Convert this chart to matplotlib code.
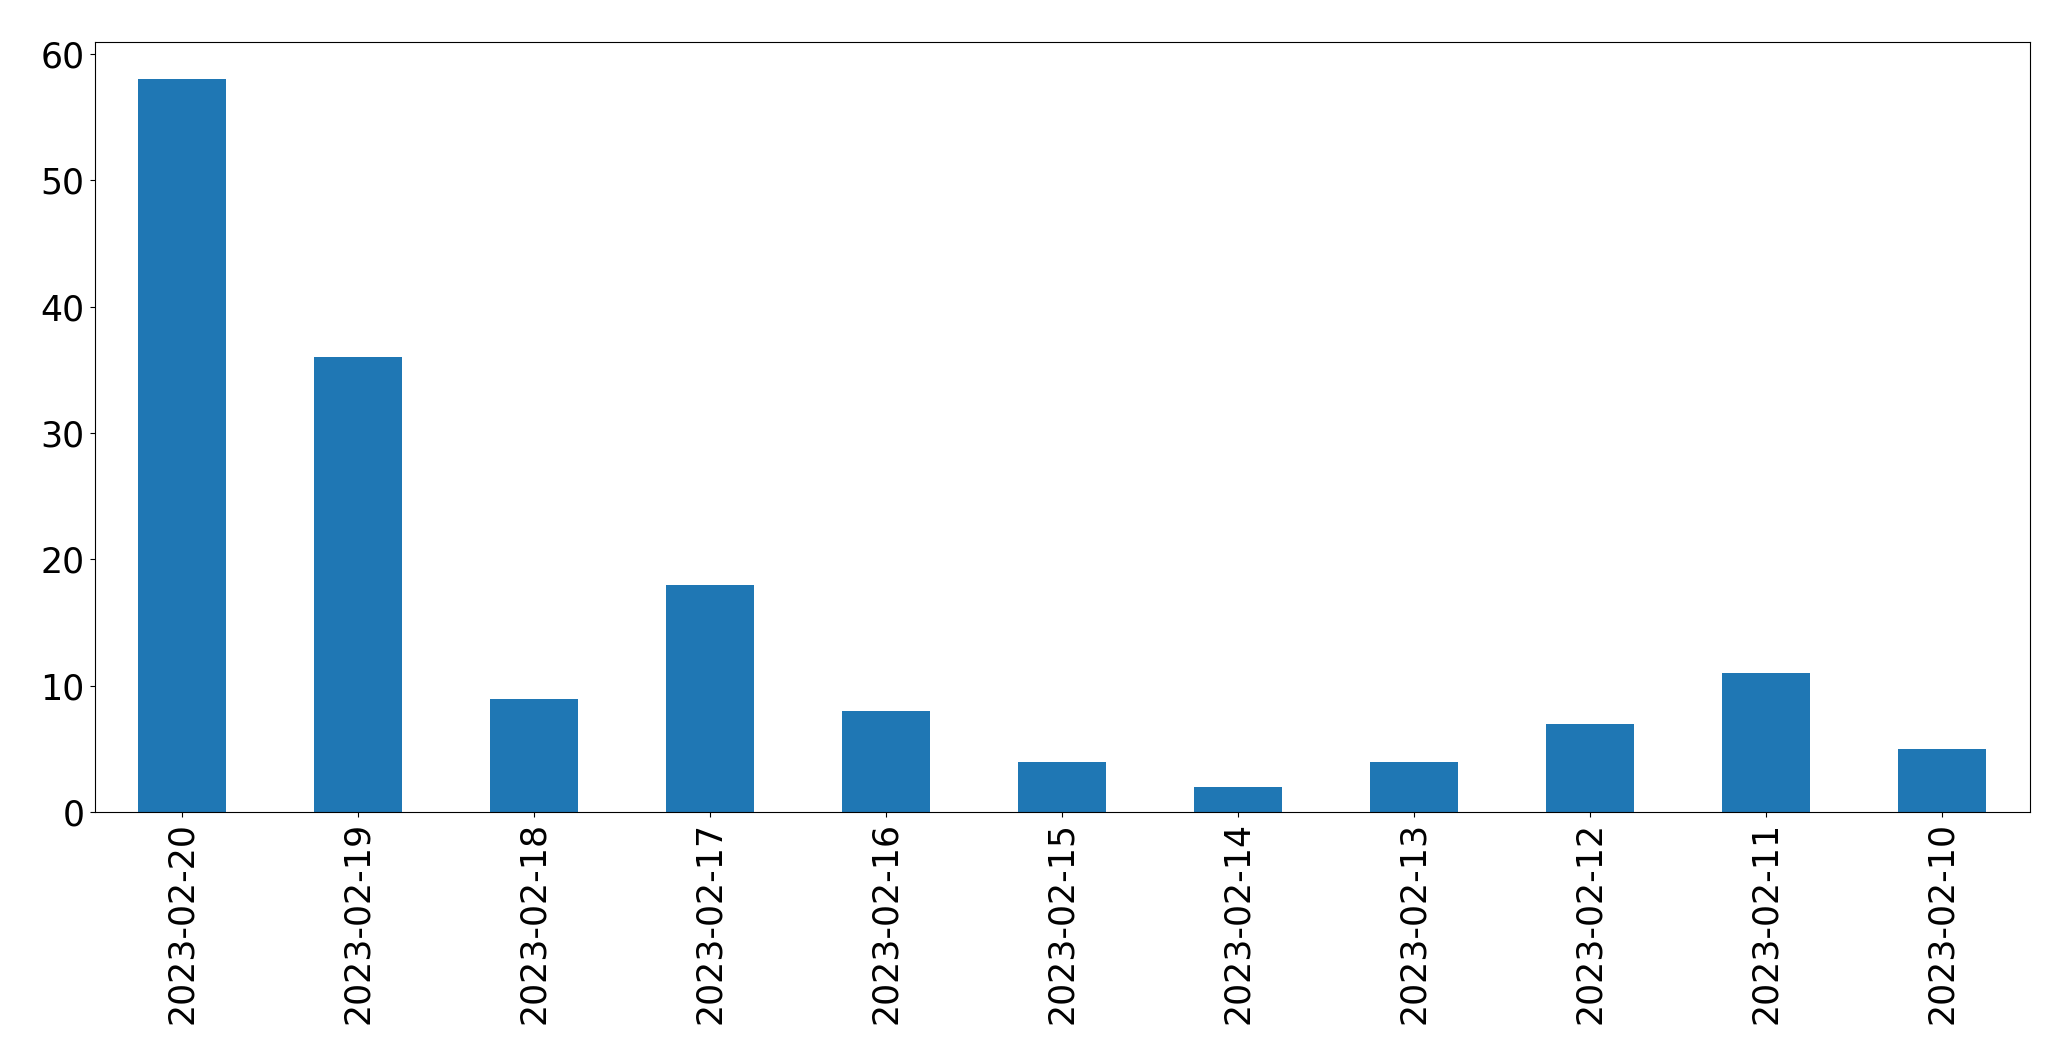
import matplotlib
matplotlib.use("Agg")
import matplotlib.pyplot as plt

dates = ["2023-02-20", "2023-02-19", "2023-02-18", "2023-02-17", "2023-02-16",
         "2023-02-15", "2023-02-14", "2023-02-13", "2023-02-12", "2023-02-11",
         "2023-02-10"]
counts = [58, 36, 9, 18, 8, 4, 2, 4, 7, 11, 5]

W, H = 2071, 1064
fig = plt.figure(figsize=(W / 100, H / 100), dpi=100)
left, right, top, bottom = 94.5, 2030, 42.3, 812.3
ax = fig.add_axes([left / W, (H - bottom) / H, (right - left) / W, (bottom - top) / H])

x = list(range(len(dates)))
ax.bar(x, counts, width=0.5, color="#1f77b4")
ax.set_xlim(-0.5, len(dates) - 0.5)
ax.set_ylim(0, max(counts) * 1.05)
ax.set_xticks(x)
ax.set_xticklabels(dates, rotation=90, fontsize=25)
ax.set_yticks([0, 10, 20, 30, 40, 50, 60])
ax.tick_params(axis="y", labelsize=25)

fig.savefig("out.png", dpi=100)
